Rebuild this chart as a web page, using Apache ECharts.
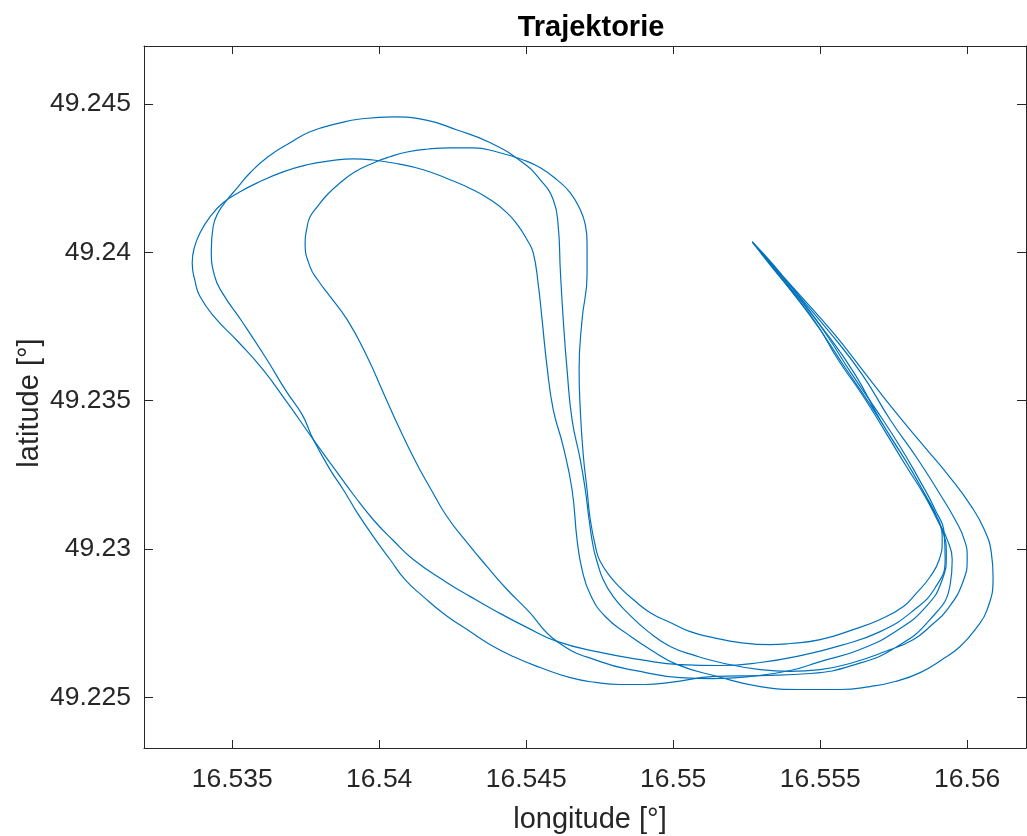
<!DOCTYPE html>
<html>
<head>
<meta charset="utf-8">
<script src="https://cdn.jsdelivr.net/npm/echarts@6/dist/echarts.min.js"></script>
<style>
html,body{margin:0;padding:0;background:#fff;}
#chart{width:1027px;height:836px;}
</style>
</head>
<body>
<div id="chart"></div>
<script>
// Flight 1 (innermost top-right loop)
const lon1 = [16.55269,16.55395,16.55520,16.55619,16.55704,16.55789,16.55857,16.55901,16.55915,16.55905,16.55874,16.55823,16.55782,16.55704,16.55612,16.55500,16.55398,16.55330,16.55228,16.55136,16.55058,16.54990,16.54922,16.54864,16.54820,16.54786,16.54752,16.54738,16.54718,16.54707,16.54694,16.54684,16.54680,16.54690,16.54707,16.54707,16.54701,16.54684,16.54650,16.54605,16.54548,16.54490,16.54401,16.54320,16.54242,16.54167,16.54095,16.54037,16.53980,16.53918,16.53867,16.53823,16.53789,16.53765,16.53755,16.53748,16.53765,16.53793,16.53823,16.53891,16.53959,16.54014,16.54071,16.54129,16.54173,16.54231,16.54299,16.54367,16.54435,16.54503,16.54605,16.54752,16.54888,16.55024,16.55133,16.55262,16.55398,16.55500,16.55636,16.55755,16.55857,16.55915,16.55929,16.55915,16.55874,16.55813,16.55745,16.55670,16.55585,16.55500,16.55415,16.55337,16.55269];
const lat1 = [49.24035,49.23884,49.23729,49.23588,49.23436,49.23301,49.23184,49.23099,49.23032,49.22965,49.22907,49.22847,49.22806,49.22763,49.22729,49.22695,49.22682,49.22678,49.22685,49.22702,49.22722,49.22753,49.22786,49.22830,49.22870,49.22907,49.22958,49.22998,49.23099,49.23200,49.23318,49.23470,49.23604,49.23773,49.23924,49.24032,49.24093,49.24143,49.24200,49.24244,49.24285,49.24311,49.24338,49.24352,49.24352,49.24348,49.24338,49.24322,49.24301,49.24271,49.24234,49.24194,49.24153,49.24120,49.24086,49.24032,49.23951,49.23904,49.23864,49.23773,49.23648,49.23527,49.23402,49.23285,49.23207,49.23109,49.23022,49.22941,49.22864,49.22796,49.22689,49.22621,49.22588,49.22567,49.22564,49.22571,49.22591,49.22621,49.22662,49.22722,49.22803,49.22897,49.22981,49.23066,49.23150,49.23261,49.23369,49.23487,49.23611,49.23739,49.23854,49.23948,49.24035];
// Flight 2 (largest top loop)
const lon2 = [16.55269,16.55398,16.55531,16.55643,16.55738,16.55833,16.55908,16.55959,16.55990,16.56000,16.55986,16.55932,16.55881,16.55816,16.55721,16.55612,16.55500,16.55398,16.55296,16.55160,16.55075,16.54990,16.54915,16.54844,16.54796,16.54762,16.54742,16.54728,16.54714,16.54701,16.54684,16.54656,16.54639,16.54626,16.54616,16.54609,16.54592,16.54548,16.54490,16.54378,16.54265,16.54156,16.54048,16.53935,16.53867,16.53765,16.53697,16.53622,16.53561,16.53517,16.53483,16.53452,16.53435,16.53429,16.53439,16.53466,16.53534,16.53612,16.53687,16.53738,16.53776,16.53833,16.53878,16.53925,16.53980,16.54037,16.54088,16.54150,16.54224,16.54299,16.54378,16.54456,16.54548,16.54650,16.54735,16.54820,16.54905,16.54990,16.55143,16.55296,16.55466,16.55619,16.55755,16.55874,16.55942,16.55949,16.55932,16.55901,16.55857,16.55789,16.55721,16.55643,16.55561,16.55483,16.55398,16.55330,16.55269];
const lat2 = [49.24035,49.23887,49.23732,49.23588,49.23436,49.23301,49.23184,49.23099,49.23032,49.22971,49.22891,49.22796,49.22746,49.22695,49.22655,49.22618,49.22594,49.22588,49.22594,49.22618,49.22641,49.22672,49.22722,49.22786,49.22840,49.22897,49.22955,49.23008,49.23099,49.23200,49.23301,49.23436,49.23604,49.23773,49.23941,49.24086,49.24177,49.24244,49.24301,49.24369,49.24412,49.24446,49.24456,49.24449,49.24436,49.24406,49.24369,49.24322,49.24268,49.24217,49.24177,49.24133,49.24086,49.24008,49.23924,49.23864,49.23766,49.23648,49.23527,49.23453,49.23369,49.23268,49.23200,49.23123,49.23042,49.22965,49.22897,49.22840,49.22779,49.22729,49.22678,49.22638,49.22601,49.22567,49.22551,49.22544,49.22544,49.22551,49.22571,49.22574,49.22581,49.22611,49.22668,49.22763,49.22880,49.22965,49.23032,49.23093,49.23177,49.23285,49.23396,49.23520,49.23638,49.23766,49.23874,49.23961,49.24035];
// Flight 3 (left-most top loop)
const lon3 = [16.55269,16.55405,16.55544,16.55656,16.55755,16.55857,16.55942,16.56010,16.56058,16.56082,16.56088,16.56068,16.56027,16.55976,16.55915,16.55840,16.55755,16.55670,16.55568,16.55432,16.55296,16.55150,16.55014,16.54922,16.54847,16.54769,16.54718,16.54690,16.54673,16.54656,16.54626,16.54592,16.54571,16.54554,16.54541,16.54524,16.54503,16.54473,16.54435,16.54378,16.54320,16.54235,16.54150,16.54065,16.53980,16.53912,16.53833,16.53755,16.53673,16.53585,16.53520,16.53469,16.53425,16.53391,16.53371,16.53364,16.53374,16.53391,16.53442,16.53517,16.53602,16.53690,16.53776,16.53850,16.53912,16.53980,16.54048,16.54116,16.54231,16.54310,16.54388,16.54497,16.54605,16.54752,16.54888,16.55024,16.55160,16.55296,16.55432,16.55568,16.55704,16.55813,16.55891,16.55925,16.55922,16.55891,16.55833,16.55772,16.55690,16.55602,16.55517,16.55425,16.55347,16.55269];
const lat3 = [49.24035,49.23884,49.23729,49.23588,49.23463,49.23342,49.23241,49.23150,49.23066,49.22988,49.22907,49.22796,49.22729,49.22672,49.22628,49.22584,49.22554,49.22537,49.22527,49.22527,49.22537,49.22571,49.22611,49.22662,49.22712,49.22773,49.22847,49.22931,49.23032,49.23200,49.23345,49.23470,49.23614,49.23773,49.23891,49.23998,49.24042,49.24089,49.24133,49.24177,49.24210,49.24247,49.24278,49.24298,49.24311,49.24315,49.24308,49.24295,49.24271,49.24234,49.24200,49.24167,49.24120,49.24066,49.24015,49.23965,49.23901,49.23850,49.23779,49.23702,49.23608,49.23490,49.23369,49.23268,49.23184,49.23099,49.23029,49.22965,49.22887,49.22840,49.22796,49.22739,49.22689,49.22652,49.22628,49.22611,49.22608,49.22618,49.22641,49.22675,49.22722,49.22790,49.22870,49.22965,49.23049,49.23133,49.23241,49.23345,49.23470,49.23598,49.23729,49.23854,49.23951,49.24035];

const xRange = [16.532, 16.562];
const yRange = [49.2233, 49.24695];
const titleText = 'Trajektorie';
const xLabel = 'longitude [°]';
const yLabel = 'latitude [°]';

const FONT = '"Liberation Sans", Arial, Helvetica, sans-serif';
const AXC = '#262626';
const LINE = '#0072BD';

function pairs(lo, la) { return lo.map((v, i) => [v, la[i]]); }

const chart = echarts.init(document.getElementById('chart'), null, {renderer: 'canvas'});

function axisCommon(showLabel, tickLen) {
  return {
    axisLine: {show: true, onZero: false, lineStyle: {color: AXC, width: 1}},
    axisTick: {show: true, inside: true, length: tickLen, lineStyle: {color: AXC, width: 1}},
    splitLine: {show: false},
    axisLabel: {show: showLabel, color: AXC, fontFamily: FONT, fontSize: 26.5, showMinLabel: false, showMaxLabel: false}
  };
}

const series = [[lon1, lat1], [lon2, lat2], [lon3, lat3]].map(([lo, la]) => ({
  type: 'line',
  data: pairs(lo, la),
  xAxisIndex: 0,
  yAxisIndex: 0,
  showSymbol: false,
  symbol: 'none',
  smooth: 0.5,
  lineStyle: {color: LINE, width: 1.2},
  silent: true
}));

const xa0 = Object.assign({type: 'value', position: 'bottom', min: xRange[0], max: xRange[1], splitNumber: 5}, axisCommon(true, 8));
xa0.axisLabel.margin = 18;
const xa1 = Object.assign({type: 'value', position: 'top', min: xRange[0], max: xRange[1], splitNumber: 5}, axisCommon(false, 8));
const ya0 = Object.assign({type: 'value', position: 'left', min: yRange[0], max: yRange[1], splitNumber: 5}, axisCommon(true, 9));
ya0.axisLabel.margin = 13;
const ya1 = Object.assign({type: 'value', position: 'right', min: yRange[0], max: yRange[1], splitNumber: 5}, axisCommon(false, 9));

chart.setOption({
  animation: false,
  backgroundColor: '#ffffff',
  grid: {left: 144, right: 1, top: 46, bottom: 88, containLabel: false},
  xAxis: [xa0, xa1],
  yAxis: [ya0, ya1],
  series: series,
  graphic: [
    {type: 'text', x: 591, y: 28, style: {text: titleText, fontFamily: FONT, fontWeight: 'bold', fontSize: 29, fill: '#000', textAlign: 'center', textVerticalAlign: 'middle'}},
    {type: 'text', x: 590, y: 820, style: {text: xLabel, fontFamily: FONT, fontSize: 29, fill: AXC, textAlign: 'center', textVerticalAlign: 'middle'}},
    {type: 'text', x: 30, y: 403, rotation: Math.PI / 2, style: {text: yLabel, fontFamily: FONT, fontSize: 29, fill: AXC, textAlign: 'center', textVerticalAlign: 'middle'}}
  ]
});
</script>
</body>
</html>
